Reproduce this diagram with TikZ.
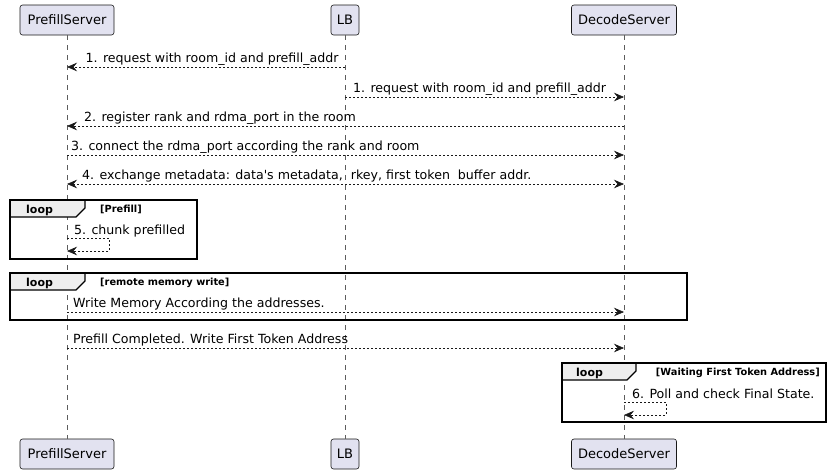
\documentclass[tikz,border=0pt]{standalone}
\usepackage{fontspec}
\setmainfont{DejaVu Sans}
\newfontfamily\plainsans{DejaVu Sans}
\usetikzlibrary{arrows.meta}
\definecolor{partfill}{HTML}{E2E2F0}
\definecolor{ink}{HTML}{181818}
\definecolor{hdrfill}{HTML}{EEEEEE}
\begin{document}
\begin{tikzpicture}[x=1pt,y=-1pt,
  part/.style={draw=ink, fill=partfill, rounded corners=2.5pt, line width=0.6pt, minimum height=30pt, inner sep=0pt, font=\fontsize{13}{15}\selectfont},
  lifeline/.style={draw=ink!70, line width=0.6pt, dash pattern=on 5pt off 5pt},
  msg/.style={draw=ink, line width=0.8pt, dash pattern=on 2pt off 2pt, -{Stealth[length=10pt,width=8.5pt,inset=3.5pt,fill=ink,line width=0.6pt]}},
  bimsg/.style={msg, {Stealth[length=10pt,width=8.5pt,inset=3.5pt,fill=ink,line width=0.6pt]}-{Stealth[length=10pt,width=8.5pt,inset=3.5pt,fill=ink,line width=0.6pt]}},
  lbl/.style={anchor=base west, inner sep=0pt, font=\plainsans\fontsize{12.6}{14}\selectfont},
  frame/.style={draw=black, line width=1.4pt},
  hdr/.style={draw=black, line width=1.1pt, fill=hdrfill},
  looptxt/.style={anchor=base west, inner sep=0pt, font=\fontsize{11}{13}\selectfont\bfseries},
  guard/.style={inner sep=0pt, font=\fontsize{9.8}{12}\selectfont\bfseries}
]
\useasboundingbox (0,0) rectangle (829,474);

% participants
\node[part, minimum width=94pt] (pT) at (67,20) {PrefillServer};
\node[part, minimum width=28pt] (lT) at (345,20) {LB};
\node[part, minimum width=105pt] (dT) at (624,20) {DecodeServer};
\node[part, minimum width=94pt] (pB) at (67,454) {PrefillServer};
\node[part, minimum width=28pt] (lB) at (345,454) {LB};
\node[part, minimum width=105pt] (dB) at (624,454) {DecodeServer};

% lifelines
\draw[lifeline] (pT.south) -- (pB.north);
\draw[lifeline] (lT.south) -- (lB.north);
\draw[lifeline] (dT.south) -- (dB.north);

% loop frames
\draw[hdr] (10,200) -- (85,200) -- (85,208) -- (76,217) -- (10,217) -- cycle;
\draw[frame] (10,200) rectangle (197,259);
\node[looptxt] (lp1) at (26,213) {loop};
\node[guard, anchor=base west] (g1) at (100,212.5) {[Prefill]};

\draw[hdr] (10,273) -- (85,273) -- (85,281) -- (76,290) -- (10,290) -- cycle;
\draw[frame] (10,273) rectangle (687,320);
\node[looptxt] (lp2) at (26,286) {loop};
\node[guard, anchor=base west] (g2) at (100,285.5) {[remote memory write]};

\draw[hdr] (562,363) -- (636,363) -- (636,371) -- (627,380) -- (562,380) -- cycle;
\draw[frame] (562,363) rectangle (826,422);
\node[looptxt] (lp3) at (576,376) {loop};
\node[guard, anchor=base east] (g3) at (820,375.5) {[Waiting First Token Address]};

% message end points
\coordinate (m1s) at (345,67);  \coordinate (m1e) at (67,67);
\coordinate (m2s) at (345,97);  \coordinate (m2e) at (624,97);
\coordinate (m3s) at (624,126); \coordinate (m3e) at (67,126);
\coordinate (m4s) at (67,155);  \coordinate (m4e) at (624,155);
\coordinate (m5s) at (67,184);  \coordinate (m5e) at (624,184);
\coordinate (m6s) at (67,238);  \coordinate (m6e) at (67,251);
\coordinate (m7s) at (67,312);  \coordinate (m7e) at (624,312);
\coordinate (m8s) at (67,348);  \coordinate (m8e) at (624,348);
\coordinate (m9s) at (624,402); \coordinate (m9e) at (624,415);

% messages
\draw[msg] (m1s) -- (m1e);
\node[lbl] (t1) at (85.5,62.5) {1. request with room\_id and prefill\_addr};
\draw[msg] (m2s) -- (m2e);
\node[lbl] (t2) at (353,92) {1. request with room\_id and prefill\_addr};
\draw[msg] (m3s) -- (m3e);
\node[lbl] (t3) at (84,121.5) {2. register rank and rdma\_port in the room};
\draw[msg] (m4s) -- (m4e);
\node[lbl] (t4) at (71,150.5) {3. connect the rdma\_port according the rank and room};
\draw[bimsg] (m5s) -- (m5e);
\node[lbl] (t5) at (82,179.5) {4. exchange metadata: data's metadata,\ \ rkey, first token\ \ buffer addr.};
\draw[msg] (m6s) -- ++(42,0) -- ++(0,13) -- (m6e);
\node[lbl] (t6) at (74,234) {5. chunk prefilled};
\draw[msg] (m7s) -- (m7e);
\node[lbl] (t7) at (73,307.5) {Write Memory According the addresses.};
\draw[msg] (m8s) -- (m8e);
\node[lbl] (t8) at (73,343.5) {Prefill Completed. Write First Token Address};
\draw[msg] (m9s) -- ++(42,0) -- ++(0,13) -- (m9e);
\node[lbl] (t9) at (632,398) {6. Poll and check Final State.};
\end{tikzpicture}
\end{document}
